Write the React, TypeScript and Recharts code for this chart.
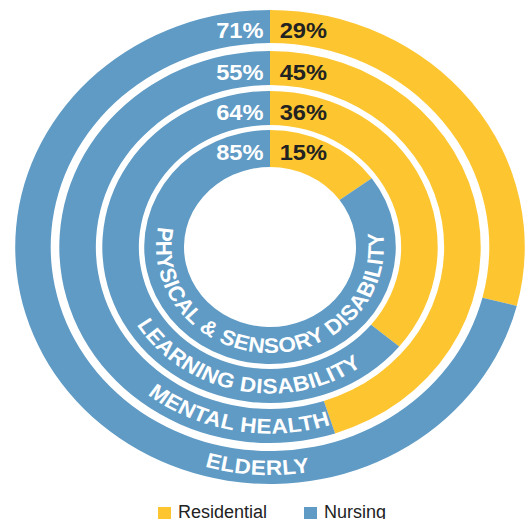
import React from "react"
import { PieChart, Pie, Cell } from "recharts"

// ring titles, outer ring first
const rings = ["ELDERLY", "MENTAL HEALTH", "LEARNING DISABILITY", "PHYSICAL & SENSORY DISABILITY"]
const residential = [29, 45, 36, 15]
const nursing = [71, 55, 64, 85]
const seriesNames = ["Residential", "Nursing"]

const COLORS = ["#FDC52F", "#5F9BC5"]
const FONT = "'Liberation Sans', Arial, sans-serif"

const W = 527
const H = 492
const CX = 270
const CY = 247
// the source graphic is a little wider than it is tall
const SX = 1.075

// [inner, outer] radius per ring, outer ring first
const RADII = [
  [204, 237],
  [162, 196],
  [122, 156],
  [80, 117],
]
// centre of each curved title, degrees from straight down (+ = to the right)
const TITLE_ANGLE = [-3, -10, -11, -1.5]

const ringData = rings.map((ring, i) => [
  { name: seriesNames[0], value: residential[i] },
  { name: seriesNames[1], value: nursing[i] },
])

// curved title running along the bottom of a ring, left to right
const RingTitle = ({ ring, cx, cy, innerRadius, outerRadius }: any) => {
  const r = (innerRadius + outerRadius) / 2 + 7.5
  const a1 = ((TITLE_ANGLE[ring] - 150) * Math.PI) / 180
  const a2 = ((TITLE_ANGLE[ring] + 150) * Math.PI) / 180
  const x1 = cx + r * Math.sin(a1)
  const y1 = cy + r * Math.cos(a1)
  const x2 = cx + r * Math.sin(a2)
  const y2 = cy + r * Math.cos(a2)
  const id = `ring-title-${ring}`
  return (
    <g>
      <defs>
        <path id={id} d={`M ${x1} ${y1} A ${r} ${r} 0 1 0 ${x2} ${y2}`} fill="none" />
      </defs>
      <text fill="#ffffff" fontSize={21} fontWeight="bold" fontFamily={FONT} letterSpacing={0.4}>
        <textPath href={`#${id}`} startOffset="50%" textAnchor="middle">
          {rings[ring]}
        </textPath>
      </text>
    </g>
  )
}

const makeLabel = (ring: number) => (props: any) => {
  const cx = props.cx ?? CX
  const cy = props.cy ?? CY
  const innerRadius = props.innerRadius ?? RADII[ring][0]
  const outerRadius = props.outerRadius ?? RADII[ring][1]
  const mid = (innerRadius + outerRadius) / 2
  const y = cy - mid + 12
  const left = props.index === 1
  return (
    <g>
      <text
        x={left ? cx - 6 : cx + 9}
        y={y}
        textAnchor={left ? "end" : "start"}
        fill={left ? "#ffffff" : "#222222"}
        fontSize={22}
        fontWeight="bold"
        fontFamily={FONT}
      >
        {props.value}%
      </text>
      {left && <RingTitle ring={ring} cx={cx} cy={cy} innerRadius={innerRadius} outerRadius={outerRadius} />}
    </g>
  )
}

export default function App() {
  return (
    <div style={{ position: "relative", width: 527, height: 519, overflow: "hidden", background: "#fff" }}>
      <style>{"body{margin:0;overflow:hidden}"}</style>
      <div style={{ width: W, height: H, transform: `scaleX(${SX})`, transformOrigin: `${CX}px ${CY}px` }}>
        <PieChart width={W} height={H} margin={{ top: 0, right: 0, bottom: 0, left: 0 }}>
          {ringData.map((data, i) => (
            <Pie
              key={rings[i]}
              data={data}
              dataKey="value"
              nameKey="name"
              cx={CX}
              cy={CY}
              innerRadius={RADII[i][0]}
              outerRadius={RADII[i][1]}
              startAngle={90}
              endAngle={-270}
              stroke="none"
              label={makeLabel(i)}
              labelLine={false}
              isAnimationActive={false}
            >
              {data.map((d, j) => (
                <Cell key={d.name} fill={COLORS[j]} />
              ))}
            </Pie>
          ))}
        </PieChart>
      </div>
      <div
        style={{
          position: "absolute",
          left: 158,
          top: 503,
          display: "flex",
          alignItems: "flex-start",
          fontFamily: FONT,
          fontSize: 18,
          lineHeight: "18px",
          color: "#222",
        }}
      >
        {seriesNames.map((n, i) => (
          <div key={n} style={{ display: "flex", alignItems: "flex-start", marginRight: i === 0 ? 37 : 0 }}>
            <span style={{ display: "inline-block", width: 13, height: 13, marginTop: 4, marginRight: 7, background: COLORS[i] }} />
            <span>{n}</span>
          </div>
        ))}
      </div>
    </div>
  )
}
